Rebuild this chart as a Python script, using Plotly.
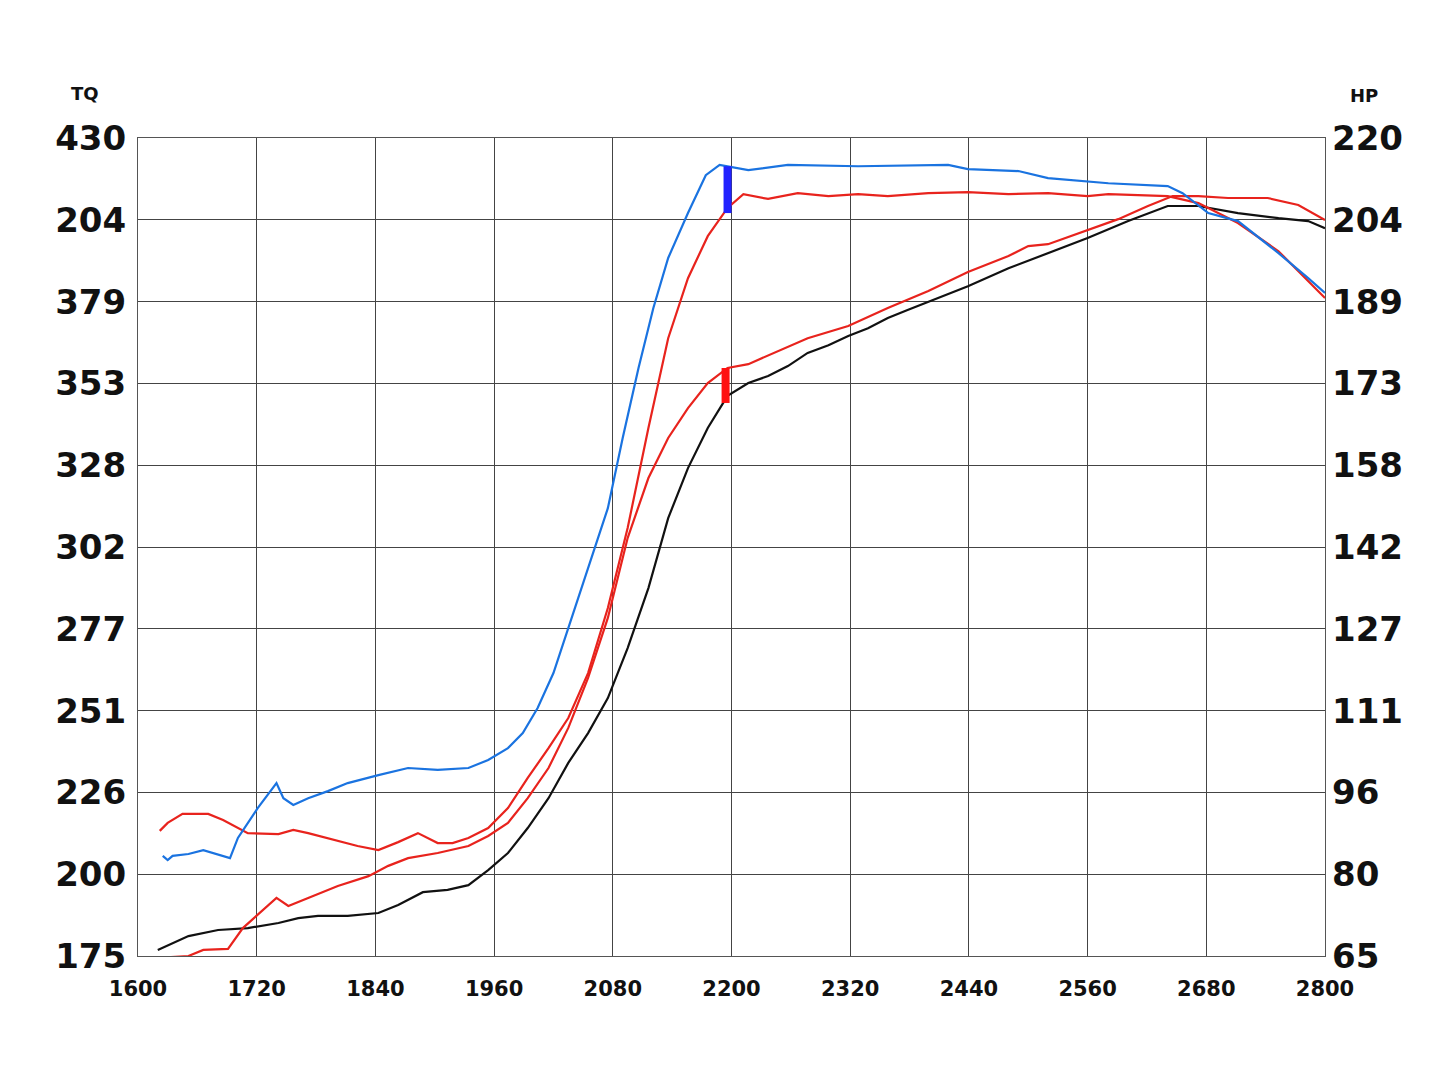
import plotly.graph_objects as go

# rpm grid and axis labels
rpm_ticks = [1600, 1720, 1840, 1960, 2080, 2200, 2320, 2440, 2560, 2680, 2800]
tq_labels = ['175', '200', '226', '251', '277', '302', '328', '353', '379', '204', '430']
hp_labels = ['65', '80', '96', '111', '127', '142', '158', '173', '189', '204', '220']
tick_vals = [175 + 25.5 * i for i in range(11)]

# curves, read in left-axis (TQ) units
blue_rpm = [1625, 1630, 1635, 1651, 1666, 1681, 1693, 1701, 1721, 1740, 1747, 1757, 1772, 1792, 1812, 1843,
            1873, 1903, 1934, 1954, 1974, 1989, 2004, 2020, 2035, 2055, 2075, 2090, 2106, 2121, 2136, 2156,
            2174, 2188, 2196, 2217, 2257, 2328, 2419, 2439, 2490, 2520, 2581, 2641, 2656, 2682, 2712, 2753,
            2783, 2800]
blue_val = [206.2, 204.9, 206.2, 206.8, 208.0, 206.5, 205.5, 211.8, 221.1, 228.9, 224.2, 222.1, 224.2, 226.4,
            228.9, 231.4, 233.6, 233.0, 233.6, 236.1, 239.8, 244.5, 252.3, 263.2, 277.2, 295.9, 314.6, 336.5,
            358.3, 377.0, 392.6, 406.6, 418.4, 421.6, 421.2, 420.0, 421.6, 421.2, 421.6, 420.3, 419.7, 417.5,
            415.9, 415.0, 412.8, 406.6, 404.1, 394.1, 386.3, 381.7]

red_top_rpm = [1622, 1630, 1645, 1671, 1686, 1711, 1742, 1757, 1772, 1802, 1822, 1843, 1863, 1883, 1903, 1918,
               1934, 1954, 1974, 1994, 2015, 2035, 2055, 2075, 2095, 2116, 2136, 2156, 2176, 2196, 2212, 2237,
               2267, 2298, 2328, 2358, 2399, 2439, 2480, 2520, 2560, 2581, 2621, 2641, 2672, 2712, 2753, 2800]
red_top_val = [214.0, 216.5, 219.3, 219.3, 217.4, 213.3, 213.0, 214.3, 213.3, 210.8, 209.3, 208.0, 210.5, 213.3,
               210.2, 210.2, 211.8, 214.9, 221.1, 230.5, 239.8, 249.2, 263.2, 283.5, 308.4, 339.6, 367.6, 386.3,
               399.4, 408.2, 412.5, 411.0, 412.8, 411.9, 412.5, 411.9, 412.8, 413.1, 412.5, 412.8, 411.9, 412.5,
               412.2, 411.9, 409.7, 403.5, 394.7, 380.1]

red_low_rpm = [1620, 1651, 1666, 1691, 1706, 1726, 1740, 1752, 1772, 1802, 1833, 1853, 1873, 1903, 1934, 1954,
               1974, 1994, 2015, 2035, 2055, 2075, 2095, 2116, 2136, 2156, 2176, 2196, 2217, 2247, 2277, 2318,
               2358, 2399, 2439, 2480, 2500, 2520, 2560, 2591, 2621, 2646, 2672, 2702, 2742, 2773, 2800]
red_low_val = [174.4, 175.0, 176.9, 177.2, 183.7, 189.3, 193.1, 190.6, 193.1, 196.8, 199.9, 203.1, 205.5, 207.1,
               209.3, 212.4, 216.5, 224.2, 233.6, 246.1, 261.7, 280.4, 305.3, 324.0, 336.5, 345.8, 353.6, 358.3,
               359.5, 363.6, 367.6, 371.4, 377.0, 382.3, 388.2, 393.2, 396.3, 396.9, 401.3, 404.7, 408.8, 411.9,
               411.9, 411.3, 411.3, 409.1, 404.4]

black_rpm = [1620, 1635, 1651, 1681, 1711, 1742, 1762, 1782, 1812, 1843, 1863, 1888, 1913, 1934, 1954, 1974,
             1994, 2015, 2035, 2055, 2075, 2095, 2116, 2136, 2156, 2176, 2196, 2217, 2237, 2257, 2277, 2298,
             2318, 2338, 2358, 2378, 2399, 2439, 2480, 2520, 2560, 2601, 2641, 2672, 2712, 2753, 2783, 2800]
black_val = [176.9, 179.1, 181.2, 183.1, 183.7, 185.3, 186.8, 187.5, 187.5, 188.4, 190.9, 194.9, 195.6, 197.1,
             201.8, 207.1, 214.9, 224.2, 235.2, 244.5, 255.4, 271.0, 289.7, 311.5, 327.1, 339.6, 349.6, 353.6,
             355.8, 358.9, 363.0, 365.4, 368.3, 370.7, 373.9, 376.4, 378.9, 383.8, 389.4, 394.1, 398.8, 404.1,
             408.8, 408.8, 406.6, 405.0, 404.1, 401.9]

# shift markers at 2200 rpm
blue_mark_rpm, blue_mark_val = [2196, 2196], [406.6, 421.2]
red_mark_rpm, red_mark_val = [2194, 2194], [347.4, 358.3]

fig = go.Figure()
for xs, ys, col in [(black_rpm, black_val, '#111111'), (red_low_rpm, red_low_val, '#e8231d'),
                    (red_top_rpm, red_top_val, '#e8231d'), (blue_rpm, blue_val, '#1a73e0')]:
    fig.add_trace(go.Scatter(x=xs, y=ys, mode='lines', line=dict(color=col, width=2.2),
                             showlegend=False))
fig.add_trace(go.Scatter(x=blue_mark_rpm, y=blue_mark_val, mode='lines',
                         line=dict(color='#2222ff', width=8), showlegend=False))
fig.add_trace(go.Scatter(x=red_mark_rpm, y=red_mark_val, mode='lines',
                         line=dict(color='#ff1111', width=8), showlegend=False))
# empty trace so the right axis is drawn
fig.add_trace(go.Scatter(x=[None], y=[None], yaxis='y2', showlegend=False))

big_font = dict(family='DejaVu Sans', size=34, color='#111111', weight='bold')
fig.update_layout(
    width=1445, height=1084,
    paper_bgcolor='white', plot_bgcolor='white',
    font=dict(family='DejaVu Sans', color='#111111'),
    margin=dict(l=130, r=128, t=130, b=136, autoexpand=False),
    xaxis=dict(range=[1600, 2800], tickvals=rpm_ticks, ticktext=[str(v) for v in rpm_ticks],
               showgrid=True, gridcolor='#444444', gridwidth=1, zeroline=False,
               showline=True, linecolor='#555555', mirror=True, automargin=False,
               tickfont=dict(family='DejaVu Sans', size=21, color='#111111', weight='bold'),
               ticks='', ticklabelstandoff=14),
    yaxis=dict(range=[175, 430], tickvals=tick_vals, ticktext=tq_labels,
               showgrid=True, gridcolor='#444444', gridwidth=1, zeroline=False,
               showline=True, linecolor='#555555', mirror=True, automargin=False,
               tickfont=big_font, ticks='', ticklabelstandoff=4),
    yaxis2=dict(range=[175, 430], tickvals=tick_vals, ticktext=hp_labels, overlaying='y',
                side='right', showgrid=False, zeroline=False, automargin=False,
                tickfont=big_font, ticks='', ticklabelstandoff=6),
)
fig.add_annotation(text='<b>TQ</b>', xref='paper', yref='paper', x=-0.058, y=1.07,
                   showarrow=False, font=dict(family='DejaVu Sans', size=18, color='#111111'))
fig.add_annotation(text='<b>HP</b>', xref='paper', yref='paper', x=1.046, y=1.067,
                   showarrow=False, font=dict(family='DejaVu Sans', size=18, color='#111111'))
fig.write_html("out.html")
